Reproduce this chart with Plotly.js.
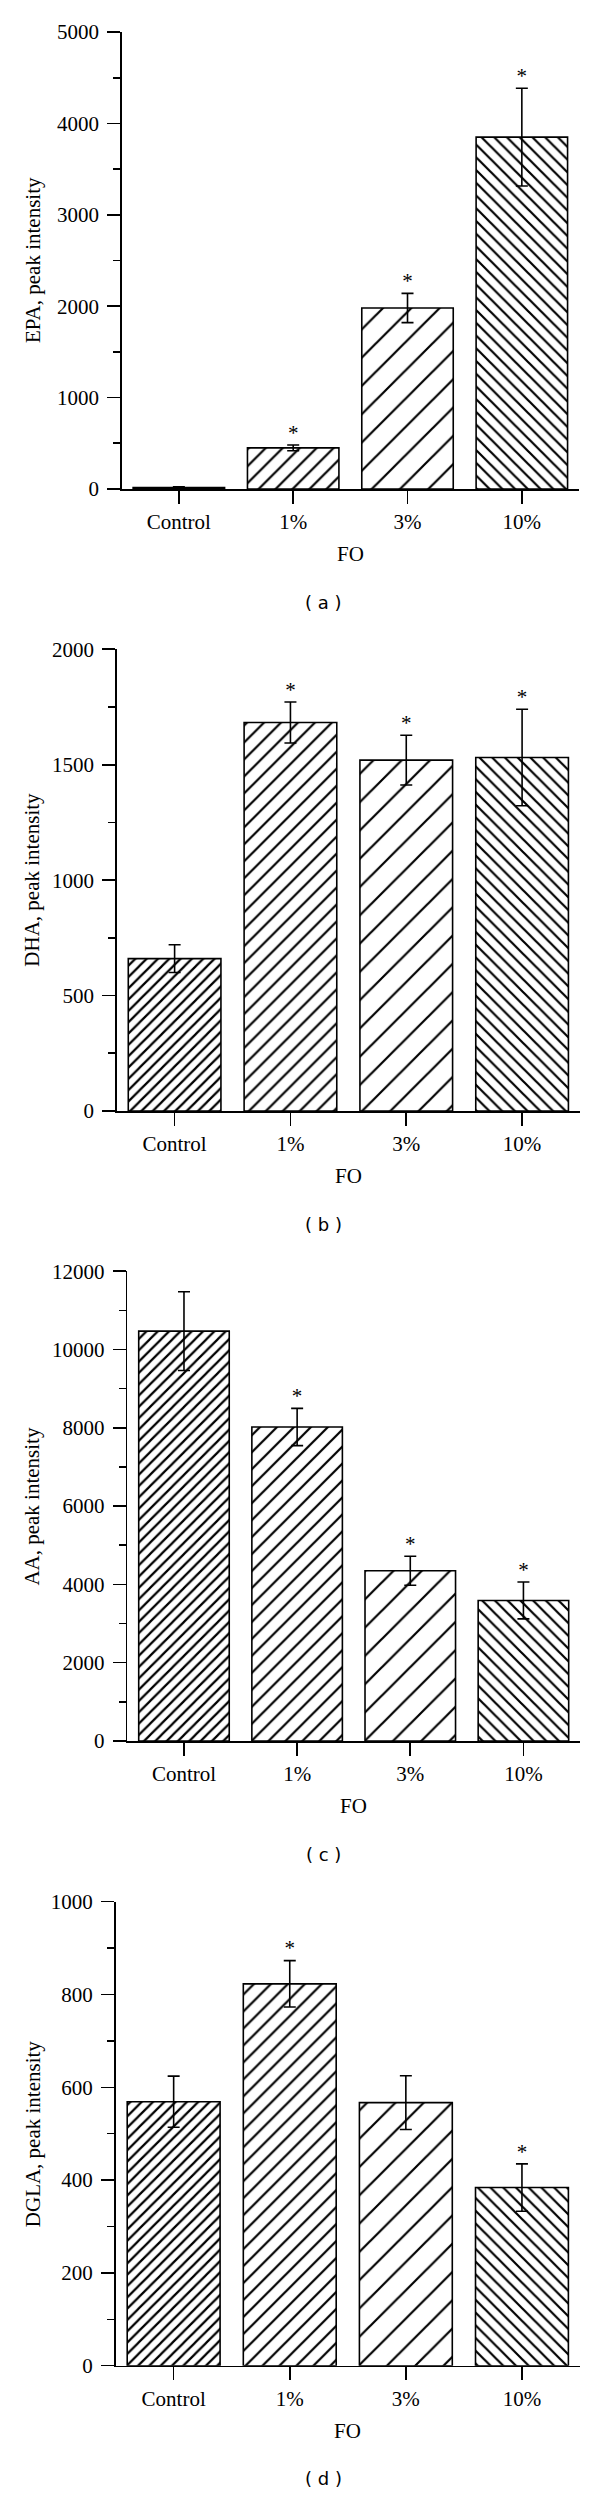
<!DOCTYPE html>
<html><head><meta charset="utf-8">
<script src="https://cdn.plot.ly/plotly-3.0.1.min.js"></script>
<style>html,body{margin:0;padding:0;background:#fff}</style>
</head><body><div id="chart" style="width:600px;height:2493px"></div>
<script>
// ---- data ----
const categories = ['Control', '1%', '3%', '10%'];

const epaValues  = [15, 450, 1980, 3850];
const epaErrors  = [10, 32, 160, 535];
const epaSignif  = ['', '*', '*', '*'];

const dhaValues  = [660, 1683, 1520, 1531];
const dhaErrors  = [60, 89, 108, 209];
const dhaSignif  = ['', '*', '*', '*'];

const aaValues   = [10470, 8020, 4350, 3590];
const aaErrors   = [1005, 475, 370, 470];
const aaSignif   = ['', '*', '*', '*'];

const dglaValues = [569, 823, 567, 384];
const dglaErrors = [55, 50, 58, 51];
const dglaSignif = ['', '*', '', '*'];

const yTitles     = ['EPA, peak intensity', 'DHA, peak intensity', 'AA, peak intensity', 'DGLA, peak intensity'];
const xTitle      = 'FO';
const panelLabels = ['( a )', '( b )', '( c )', '( d )'];

// ---- styling / layout ----
const W = 600, H = 2493;
const serif = 'Liberation Serif, Times New Roman, serif';
const patShapes = ['/', '/', '/', '\\'];
const patSizes  = [8, 12, 20, 9];
const patSolid  = patSizes.map(s => 2.2 / s);

const panels = [
  {vals: epaValues,  errs: epaErrors,  sig: epaSignif,  range: [0, 5000],  dtick: 1000, minor: 500,  xpx: [121.7, 579], ypx: [489, 32]},
  {vals: dhaValues,  errs: dhaErrors,  sig: dhaSignif,  range: [0, 2000],  dtick: 500,  minor: 250,  xpx: [116.7, 580], ypx: [1111, 649.3]},
  {vals: aaValues,   errs: aaErrors,   sig: aaSignif,   range: [0, 12000], dtick: 2000, minor: 1000, xpx: [127.4, 580], ypx: [1741, 1271.2]},
  {vals: dglaValues, errs: dglaErrors, sig: dglaSignif, range: [0, 1000],  dtick: 200,  minor: 100,  xpx: [115.6, 580], ypx: [2365.7, 1901.7]}
];

const traces = [];
const layout = {
  width: W, height: H,
  margin: {l: 0, r: 0, t: 0, b: 0},
  paper_bgcolor: '#fff', plot_bgcolor: '#fff',
  showlegend: false, bargap: 0.2,
  font: {family: serif, color: '#000', size: 21},
  annotations: []
};

panels.forEach((p, i) => {
  const n = i === 0 ? '' : String(i + 1);
  const xa = 'x' + n, ya = 'y' + n;
  traces.push({
    type: 'bar', x: categories, y: p.vals, xaxis: xa, yaxis: ya,
    marker: {
      color: '#fff',
      line: {color: '#000', width: 1.6},
      pattern: {shape: patShapes, size: patSizes, solidity: patSolid, fgcolor: '#000', bgcolor: '#fff', fillmode: 'replace'}
    },
    error_y: {type: 'data', array: p.errs, visible: true, color: '#000', thickness: 1.6, width: 6},
    hoverinfo: 'skip'
  });
  traces.push({
    type: 'scatter', mode: 'text', x: categories,
    y: p.vals.map((v, k) => v + p.errs[k]),
    text: p.sig, textposition: 'top center',
    textfont: {family: serif, size: 21, color: '#000'},
    xaxis: xa, yaxis: ya, hoverinfo: 'skip'
  });
  const tickfont = {family: serif, size: 21, color: '#000'};
  layout['xaxis' + n] = {
    domain: [p.xpx[0] / W, p.xpx[1] / W], range: [-0.5, 3.5], anchor: ya,
    type: 'category', showline: true, linecolor: '#000', linewidth: 1.6,
    ticks: 'outside', ticklen: 13, tickwidth: 1.6, tickcolor: '#000',
    showgrid: false, zeroline: false, tickfont: tickfont, fixedrange: true
  };
  layout['yaxis' + n] = {
    domain: [1 - p.ypx[0] / H, 1 - p.ypx[1] / H], range: p.range, anchor: xa,
    tick0: 0, dtick: p.dtick, tickformat: 'd', showline: true, linecolor: '#000', linewidth: 1.6,
    ticks: 'outside', ticklen: 13, tickwidth: 1.6, tickcolor: '#000',
    minor: {ticks: 'outside', ticklen: 7, tickwidth: 1.6, tickcolor: '#000', dtick: p.minor, tick0: 0, showgrid: false},
    showgrid: false, zeroline: false, tickfont: tickfont, fixedrange: true,
    ticklabelstandoff: 4
  };
  const xc = (p.xpx[0] + p.xpx[1]) / 2 / W;
  layout.annotations.push({
    text: yTitles[i], textangle: -90, xref: 'paper', yref: 'paper',
    x: 32.5 / W, y: 1 - (p.ypx[0] + p.ypx[1]) / 2 / H,
    xanchor: 'center', yanchor: 'middle', showarrow: false,
    font: {family: serif, size: 21, color: '#000'}
  });
  layout.annotations.push({
    text: xTitle, xref: 'paper', yref: 'paper',
    x: xc, y: 1 - (p.ypx[0] + 65) / H,
    xanchor: 'center', yanchor: 'middle', showarrow: false,
    font: {family: serif, size: 21, color: '#000'}
  });
  layout.annotations.push({
    text: panelLabels[i], xref: 'paper', yref: 'paper',
    x: 323 / W, y: 1 - (p.ypx[0] + 113) / H,
    xanchor: 'center', yanchor: 'middle', showarrow: false,
    font: {family: 'DejaVu Sans, Verdana, sans-serif', size: 18, color: '#000'}
  });
});

Plotly.newPlot('chart', traces, layout, {displayModeBar: false, staticPlot: true});
</script>
</body></html>
